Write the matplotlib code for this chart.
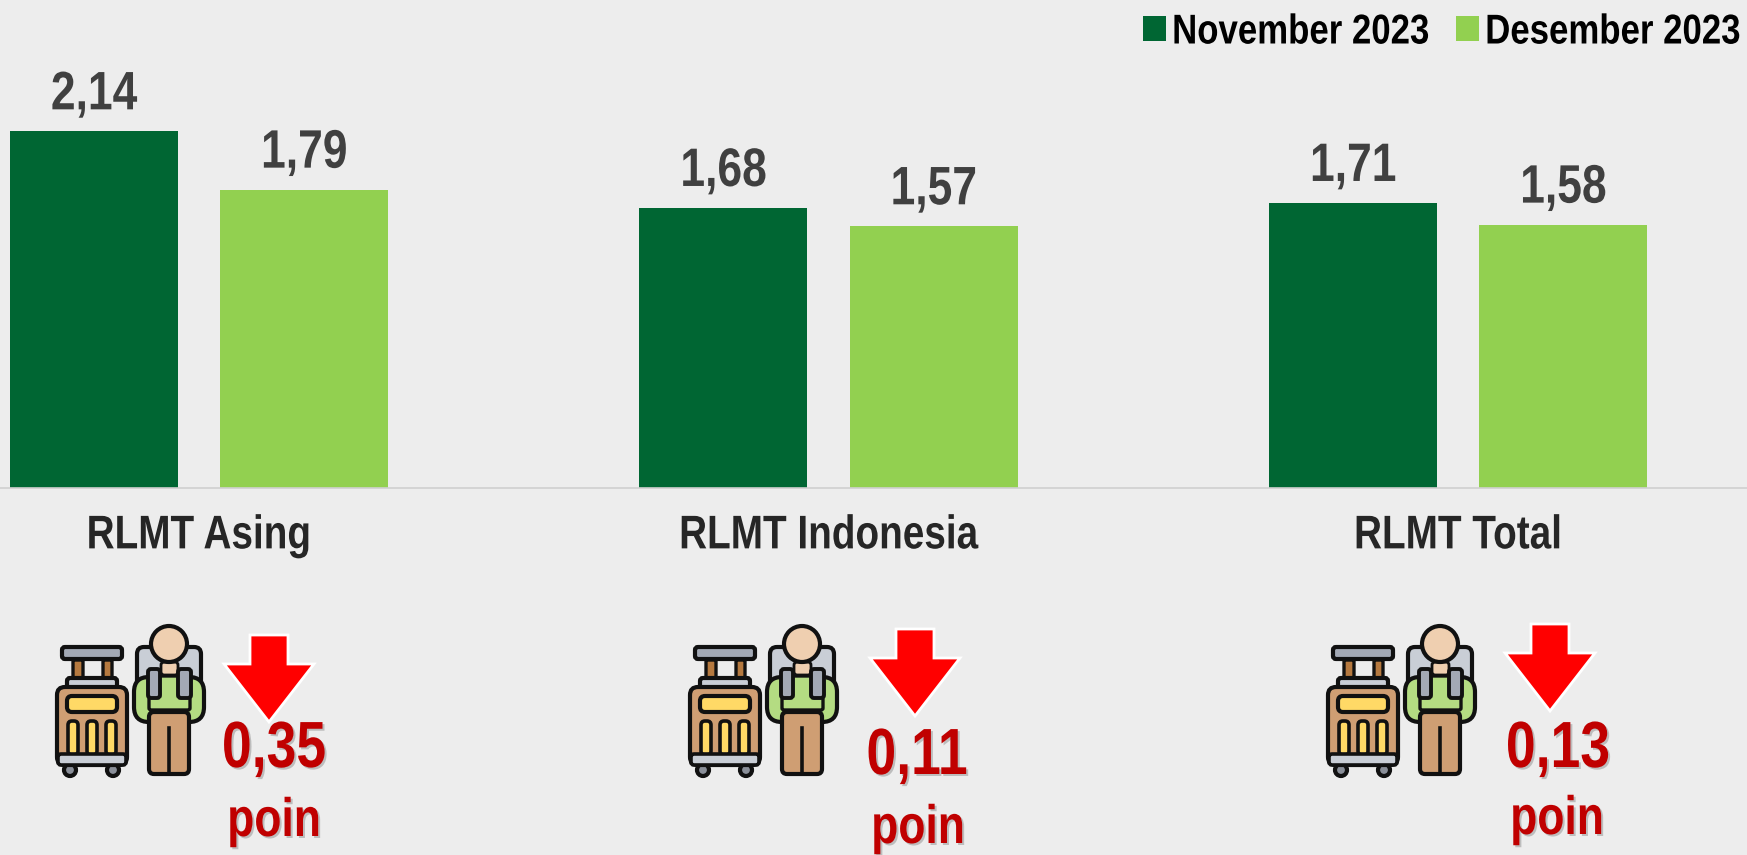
import matplotlib
matplotlib.use("Agg")
import matplotlib.pyplot as plt
import matplotlib.patheffects as pe
from matplotlib.patches import Circle, FancyBboxPatch, Polygon
from matplotlib.transforms import Affine2D
import numpy as np

# ---------------------------
# DATA
# ---------------------------

categories = ["RLMT Asing", "RLMT Indonesia", "RLMT Total"]
november = [2.14, 1.68, 1.71]
desember = [1.79, 1.57, 1.58]
series_names = ["November 2023", "Desember 2023"]
delta_labels = ["0,35", "0,11", "0,13"]

BG = "#EDEDED"
DARK = "#006633"
LIGHT = "#92D050"
RED = "#C00000"
SQUEEZE = 0.82

plt.rcParams["font.family"] = ["Liberation Sans", "DejaVu Sans"]
plt.rcParams["font.weight"] = "bold"


# no narrow bold font installed, so squeeze the real text sideways when drawn
class Narrow(pe.AbstractPathEffect):
    def __init__(self, sx=SQUEEZE, anchor="center", shadow=None):
        super().__init__()
        self.sx = sx
        self.anchor = anchor
        self.shadow = shadow

    def draw_path(self, renderer, gc, tpath, affine, rgbFace=None):
        box = affine.transform_path(tpath).get_extents()
        cx = box.x1 if self.anchor == "right" else (box.x0 + box.x1) / 2
        squeezed = affine + Affine2D().translate(-cx, 0).scale(self.sx, 1).translate(cx, 0)
        if self.shadow:
            gc0 = renderer.new_gc()
            gc0.copy_properties(gc)
            gc0.set_alpha(0.4)
            renderer.draw_path(gc0, tpath, squeezed + Affine2D().translate(2, -2),
                               matplotlib.colors.to_rgba(self.shadow))
            gc0.restore()
        renderer.draw_path(gc, tpath, squeezed, rgbFace)


W, H = 1747, 855
fig = plt.figure(figsize=(W / 100, H / 100), dpi=100, facecolor=BG)

# ---------------------------
# BARS
# ---------------------------

ax = fig.add_axes([0, 0, 1, 1])
ax.patch.set_visible(False)
x = np.arange(len(categories))
bar_w = 0.267
off = 0.167
b1 = ax.bar(x - off, november, bar_w, color=DARK, label=series_names[0])
b2 = ax.bar(x + off, desember, bar_w, color=LIGHT, label=series_names[1])

for bars in (b1, b2):
    labs = ax.bar_label(bars, labels=[f"{b.get_height():.2f}".replace(".", ",") for b in bars],
                        padding=8, fontsize=39, color="#404040")
    for t in labs:
        t.set_path_effects([Narrow()])

for side in ["top", "right", "left"]:
    ax.spines[side].set_visible(False)
# set_position resets the ticks, so it has to come before the tick setup
ax.spines["bottom"].set_position(("data", 0))
ax.spines["bottom"].set_color("#D0D0D0")
ax.spines["bottom"].set_linewidth(1.2)

ax.set_xlim(-0.316, 2.459)
ax.set_ylim(-2.203, 2.929)
ax.set_yticks([])
ax.set_xticks(x)
ax.set_xticklabels(categories, fontsize=34, color="#262626")
ax.tick_params(axis="x", length=0, pad=19)
for lab in ax.get_xticklabels():
    lab.set_path_effects([Narrow()])

leg = ax.legend(loc="upper right", bbox_to_anchor=(1753 / W, 1.0), ncol=2, frameon=False,
                fontsize=30, handlelength=0.55, handleheight=0.53, handletextpad=-1.06,
                columnspacing=0.65, borderaxespad=0.0, borderpad=0.3)
for t in leg.get_texts():
    t.set_color("black")
    t.set_path_effects([Narrow(sx=0.835, anchor="right")])

# ---------------------------
# ICONS (pixel coordinates)
# ---------------------------

ov = fig.add_axes([0, 0, 1, 1])
ov.set_xlim(0, W)
ov.set_ylim(H, 0)
ov.axis("off")

OUT = "#111111"


def rbox(x0, y0, x1, y1, color, ox, r=3, lw=3.0, z=3):
    ov.add_patch(FancyBboxPatch((ox + x0, y0), x1 - x0, y1 - y0,
                                boxstyle=f"round,pad=0,rounding_size={r}",
                                fc=color, ec=OUT, lw=lw, zorder=z))


def traveler(ox):
    # suitcase
    rbox(73, 660, 83, 680, "#B5793F", ox, 0.5, 2.4)
    rbox(103, 660, 112, 680, "#B5793F", ox, 0.5, 2.4)
    rbox(62, 647, 122, 659, "#A3A9B5", ox, 3)
    rbox(67, 678, 117, 689, "#C9CED6", ox, 3)
    ov.add_patch(Circle((ox + 70, 770), 6, fc="#8A8F99", ec=OUT, lw=3, zorder=2))
    ov.add_patch(Circle((ox + 113, 770), 6, fc="#8A8F99", ec=OUT, lw=3, zorder=2))
    rbox(57, 687, 127, 765, "#CF9E73", ox, 8)
    rbox(67, 696, 117, 712, "#FFD966", ox, 5)
    for sx in (68, 87, 106):
        rbox(sx, 721, sx + 10, 755, "#FFD966", ox, 4, 2.6, 4)
    rbox(58, 754, 126, 765, "#C9CED6", ox, 3, 2.6, 4)
    # person
    rbox(137, 647, 201, 695, "#C9CED6", ox, 7, 3, 3)
    rbox(134, 677, 204, 722, "#B4DC82", ox, 15, 3, 4)
    rbox(149, 676, 190, 710, "#B4DC82", ox, 2, 2.4, 5)
    rbox(149, 712, 189, 774, "#CF9E73", ox, 5, 3, 5)
    ov.plot([ox + 169, ox + 169], [728, 772], color=OUT, lw=2.6, zorder=6)
    rbox(148, 669, 160, 698, "#A3A9B5", ox, 3, 2.8, 6)
    rbox(178, 669, 191, 698, "#A3A9B5", ox, 3, 2.8, 6)
    rbox(161, 662, 178, 675, "#EFCFB0", ox, 3, 2, 5)
    ov.add_patch(Circle((ox + 169, 644), 18, fc="#EFCFB0", ec=OUT, lw=3, zorder=7))


def arrow(tx, ty):
    pts = [(tx, ty), (tx - 45, ty - 58), (tx - 19, ty - 58), (tx - 19, ty - 87),
           (tx + 19, ty - 87), (tx + 19, ty - 58), (tx + 45, ty - 58)]
    ov.add_patch(Polygon(pts, closed=True, fc="#FF0000", ec="white", lw=2, zorder=3, joinstyle="miter"))


icon_dx = [0, 633, 1271]
tips = [(269, 722), (915, 716), (1550, 711)]
delta_pos = [(274, 750), (917, 757), (1558, 750)]
poin_pos = [(274, 822), (918, 829), (1557, 820)]

for i in range(len(categories)):
    traveler(icon_dx[i])
    arrow(*tips[i])
    ov.text(*delta_pos[i], delta_labels[i], color=RED, fontsize=47, ha="center", va="center",
            path_effects=[Narrow(shadow="#777777")], zorder=8)
    ov.text(*poin_pos[i], "poin", color=RED, fontsize=39, ha="center", va="center",
            path_effects=[Narrow(shadow="#777777")], zorder=8)

fig.savefig("out.png", dpi=100, facecolor=BG)
